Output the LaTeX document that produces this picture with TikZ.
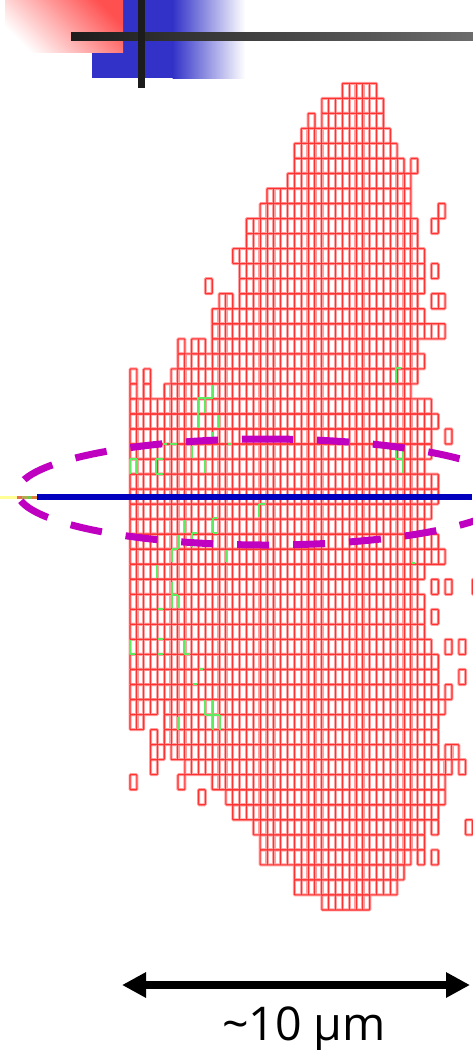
\documentclass[tikz,border=0pt]{standalone}
\usepackage{fontspec}
\setmainfont{Open Sans}
\usetikzlibrary{arrows.meta}
\definecolor{cellhalo}{RGB}{255,160,160}
\definecolor{cellline}{RGB}{255,50,50}
\definecolor{flaw}{RGB}{95,235,95}
\definecolor{ringcol}{RGB}{192,0,192}
\definecolor{beamcol}{RGB}{0,0,190}
\definecolor{bluebox}{RGB}{50,50,200}
\definecolor{pinktop}{RGB}{255,80,80}
\definecolor{pinkmid}{RGB}{255,222,222}
\definecolor{barcol}{RGB}{28,28,28}
\definecolor{barend}{RGB}{108,108,108}
\newcommand{\rowcells}[3]{%
  \foreach \k/\a/\b in {0/31/36,1/28/37,2/26/27,2/28/37,3/25/38,4/24/39,5/24/40,5/41/42,6/23/41,7/20/41,8/19/41,8/45/46,
    9/17/42,9/44/45,10/17/42,11/15/43,12/16/43,12/44/45,13/16/43,13/11/12,14/13/15,14/16/42,14/44/46,15/12/43,16/12/46,
    17/7/8,17/9/11,17/12/42,18/7/43,19/0/1,19/2/3,19/6/42,20/0/1,20/2/3,20/5/41,21/0/44,22/0/45,23/0/44,23/46/47,24/0/44,
    25/0/43,26/0/45,27/0/45,28/0/44,29/0/43,30/0/45,31/0/46,32/0/43,33/0/42,33/44/45,33/46/47,33/50/51,34/0/43,35/0/43,
    35/44/45,36/0/43,37/0/44,37/46/47,37/48/49,38/0/45,39/0/45,39/48/49,40/0/45,40/46/47,41/0/4,41/5/46,42/0/2,42/5/45,
    43/3/4,43/5/45,44/3/5,44/6/45,44/46/48,45/3/4,45/8/47,45/48/49,46/0/1,46/7/8,46/12/46,47/10/11,47/14/46,48/15/45,
    49/18/43,49/44/45,49/49/50,50/19/43,51/19/41,51/42/43,51/44/45,52/24/40,53/24/39,54/28/35}{%
    \pgfmathsetmacro{\yt}{83.3+15.03*\k}%
    \pgfmathsetmacro{\yb}{83.3+15.03*(\k+1)}%
    \pgfmathsetmacro{\xl}{130+6.85*\a}%
    \pgfmathsetmacro{\xr}{130+6.85*\b}%
    \draw[color=#1,line width=#2,rounded corners=0.8pt] (\xl,\yt) rectangle (\xr,\yb);%
    \pgfmathtruncatemacro{\aa}{\a+1}%
    \pgfmathtruncatemacro{\bb}{\b-1}%
    \ifnum\aa>\bb\else
      \foreach \m in {\aa,...,\bb}{%
        \pgfmathsetmacro{\xm}{130+6.85*\m}%
        \draw[color=#1,line width=#3] (\xm,\yt) -- (\xm,\yb);%
      }%
    \fi
  }%
}
\tikzset{
  flawline/.style={draw=flaw,line width=2pt},
  ringdash/.style={draw=ringcol,line width=7pt},
  scalearrow/.style={line width=7.5pt,{Triangle[length=24pt,width=24pt]}-{Triangle[length=24pt,width=24pt]}}
}
\begin{document}
\begin{tikzpicture}[x=1pt,y=-1pt]
\useasboundingbox (0,0) rectangle (473,1050);
\clip (0,0) rectangle (473,1050);
\fill[white] (0,0) rectangle (473,1050);
% header ornament
\fill[bluebox] (92,0) rectangle (173,78);
\shade[left color=bluebox,right color=white] (172.5,0) rectangle (245,78);
\shade[bottom color=white,middle color=pinkmid,top color=pinktop,shading angle=-45] (5,0) rectangle (123,52);
\shade[left color=barcol,right color=barend] (71,32) rectangle (473,40);
\fill[barcol] (138,0) rectangle (145,88);
% detector cells
\rowcells{cellhalo}{3pt}{3.4pt}
\rowcells{cellline}{1.1pt}{1pt}
% flawed cell edges
\foreach \xa/\ya/\xb/\yb in {212.7/385/212.7/398,198/398.3/212.7/398.3,198.3/398/198.3/428,205/398/205/413,219/415/219/428,
  212.7/432/212.7/438,170/444/176.7/444,163/444/167/444,228/444/232/444,191.5/446/191.5/458,
  130/459/130/474,136.7/459/136.7/474,130/459/136.7/459,156/459/156/474,156/459/163/459,156/474/163/474,205/460/205/473,
  185/520/185/533,212.7/518/212.7/533,212.7/518/218/518,212.7/533/218/533,192/533/197/533,192/533/192/547,
  178.3/535/178.3/549,171.7/549/178.3/549,171.7/549/171.7/562,226/550/226/562,156.7/565/156.7/578,
  171.7/582/171.7/608,171.7/595/178.3/595,178.3/595/178.3/608,157.7/609/163.3/609,
  130/640/130/654,130/654/135/654,157.7/639/163.3/639,157.7/654/163.3/654,184.3/640/184.3/654,184.3/654/190/654,
  199/669/203/669,193/684/197/684,205/700/205/715,205/715/220/715,212.7/700/212.7/730,220/715/220/730,178.3/717/178.3/730,
  396.3/368/396.3/383,396.3/368/401/368,403/447/403/473,396.3/450/396.3/459,396.3/459/403/459,259/504/259/517,259/504/265.7/504,
  411.5/563/415/563}{
  \draw[flawline] (\xa,\ya) -- (\xb,\yb);
}
% beam
\coordinate (beamL) at (0,497);
\coordinate (beamA) at (17,497);
\coordinate (beamB) at (22,497);
\coordinate (beamC) at (27,497);
\coordinate (beamD) at (32,497);
\coordinate (beamE) at (37,497);
\coordinate (beamR) at (472,497);
\draw[line width=3pt,color={rgb,255:red,255;green,255;blue,150}] (beamL) -- (beamA);
\draw[line width=3pt,color={rgb,255:red,230;green,110;blue,80}] (beamA) -- (beamB);
\draw[line width=3pt,color={rgb,255:red,180;green,170;blue,80}] (beamB) -- (beamC);
\draw[line width=3pt,color={rgb,255:red,120;green,200;blue,80}] (beamC) -- (beamD);
\draw[line width=3pt,color={rgb,255:red,220;green,130;blue,60}] (beamD) -- (beamE);
\draw[line width=6pt,color=beamcol] (beamE) -- (beamR);
% dashed ring
\draw[ringdash,dash pattern=on 32pt off 24pt,dash phase=8pt]
  (266,439) arc[start angle=270,end angle=20,x radius=248.5,y radius=53];
\draw[ringdash,dash pattern=on 32pt off 24pt,dash phase=5pt]
  (266,439) arc[start angle=270,end angle=340,x radius=248.5,y radius=53];
% scale
\coordinate (scaleL) at (122,985);
\coordinate (scaleR) at (470,985);
\draw[scalearrow] (scaleL) -- (scaleR);
\node[anchor=base,inner sep=0pt,font=\fontsize{46.5}{55}\selectfont] (scaleText) at (304,1040) {\textasciitilde 10 μm};
\end{tikzpicture}
\end{document}
